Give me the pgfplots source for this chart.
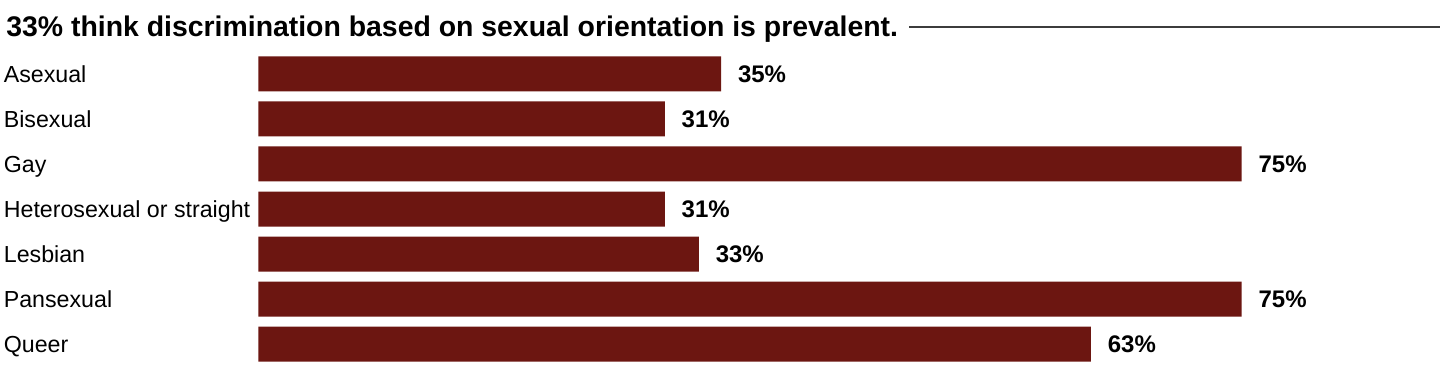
\documentclass[border=0pt]{standalone}
\usepackage{pgfplots}
\pgfplotsset{compat=1.18}
\usepackage{pgfplotstable}
\usepackage{fontspec}
\setmainfont{Liberation Sans}
\definecolor{barred}{RGB}{108,22,17}
\definecolor{rulegray}{RGB}{60,60,60}
\pgfplotstableread{
y x lab
0 35.3 35
1 31.0 31
2 75.0 75
3 31.0 31
4 33.6 33
5 75.0 75
6 63.5 63
}\datatable
\begin{document}
\begin{tikzpicture}
\path[use as bounding box] (0,0) rectangle (720pt,191pt);
\node[anchor=base west, inner sep=0pt, font=\fontsize{14.2}{16}\selectfont\bfseries] at (3pt,173pt) {33\% think discrimination based on sexual orientation is prevalent.};
\draw[rulegray, line width=0.9pt] (454.5pt,177.6pt) -- (720pt,177.6pt);
\begin{axis}[
  at={(129.15pt,7.65pt)}, anchor=south west,
  width=491.7pt, height=157.7pt, scale only axis,
  xmin=0, xmax=75, ymin=-0.5, ymax=6.5, y dir=reverse,
  xbar, bar width=17.5pt, bar shift=0pt,
  axis line style={draw=none}, tick style={draw=none},
  xtick=\empty, ytick={0,...,6},
  yticklabels={Asexual,Bisexual,Gay,Heterosexual or straight,Lesbian,Pansexual,Queer},
  yticklabel style={anchor=base west, inner sep=0pt, xshift=-123.15pt, yshift=-4.3pt, font=\fontsize{11.6}{13}\selectfont},
  clip=false,
  point meta=explicit,
  nodes near coords={\pgfmathprintnumber[assume math mode=true]{\pgfplotspointmeta}\%},
  every node near coord/.append style={anchor=base west, inner sep=0pt, xshift=8.25pt, yshift=-4.4pt, font=\fontsize{12}{14}\selectfont\bfseries, text=black},
]
\addplot[fill=barred, draw=none] table[x=x, y=y, meta=lab] {\datatable};
\end{axis}
\end{tikzpicture}
\end{document}
